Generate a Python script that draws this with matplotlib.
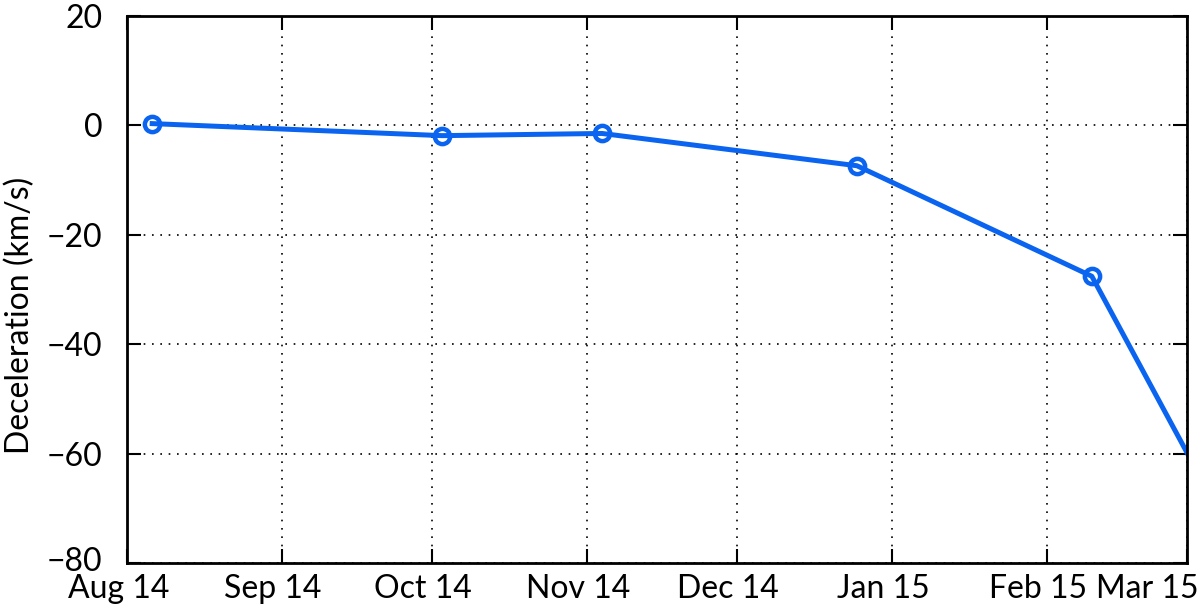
import datetime as dt
import matplotlib
matplotlib.use("Agg")
import matplotlib.pyplot as plt
import matplotlib.transforms as mtransforms

# observation dates and measured deceleration
dates = ["2014-08-06", "2014-10-03", "2014-11-04", "2014-12-25", "2015-02-10", "2015-03-10"]
decel = [0.3, -1.9, -1.5, -7.4, -27.6, -75.0]

tick_dates = ["2014-08-01", "2014-09-01", "2014-10-01", "2014-11-01",
              "2014-12-01", "2015-01-01", "2015-02-01", "2015-03-01"]
tick_labels = ["Aug 14", "Sep 14", "Oct 14", "Nov 14", "Dec 14", "Jan 15", "Feb 15", "Mar 15"]
y_ticks = [20, 0, -20, -40, -60, -80]

plt.rcParams["font.family"] = ["Lato", "DejaVu Sans"]

x = [dt.datetime.strptime(d, "%Y-%m-%d") for d in dates]
xt = [dt.datetime.strptime(d, "%Y-%m-%d") for d in tick_dates]

fig = plt.figure(figsize=(12, 6.08), dpi=100)
ax = fig.add_axes([0.106, 0.074, 0.883, 0.9])

ax.plot(x, decel, color="#0a64f0", linewidth=3.6, marker="o", markersize=11,
        markerfacecolor="none", markeredgewidth=3.2)

ax.set_xlim(xt[0], xt[-1])
ax.set_ylim(-80, 20)
ax.set_xticks(xt)
ax.set_xticklabels(tick_labels)
ax.set_yticks(y_ticks)
ax.set_yticklabels([str(v).replace("-", "\u2212") for v in y_ticks])

ax.grid(True, color="black", linestyle=(0, (1, 4)), linewidth=1.2)
ax.tick_params(direction="in", length=10, width=1.5, labelsize=23,
               top=True, right=True)
ax.tick_params(axis="x", pad=8)
ax.tick_params(axis="y", pad=18)
for s in ax.spines.values():
    s.set_linewidth(2)

# month labels sit a little left of their ticks; the last one is right-aligned
labels = ax.get_xticklabels()
for lab in labels[:-1]:
    lab.set_transform(lab.get_transform() + mtransforms.ScaledTranslation(-9 / 100, 0, fig.dpi_scale_trans))
labels[-1].set_ha("right")
labels[-1].set_transform(labels[-1].get_transform() + mtransforms.ScaledTranslation(12 / 100, 0, fig.dpi_scale_trans))

# bottom y label nudged up a little so it clears the first month label
ylabs = ax.get_yticklabels()
ylabs[-1].set_transform(ylabs[-1].get_transform() + mtransforms.ScaledTranslation(0, 4 / 100, fig.dpi_scale_trans))

ax.set_ylabel("Deceleration (km/s)", fontsize=23)
ax.yaxis.set_label_coords(-0.087, 0.452)

fig.savefig("out.png", dpi=100)
